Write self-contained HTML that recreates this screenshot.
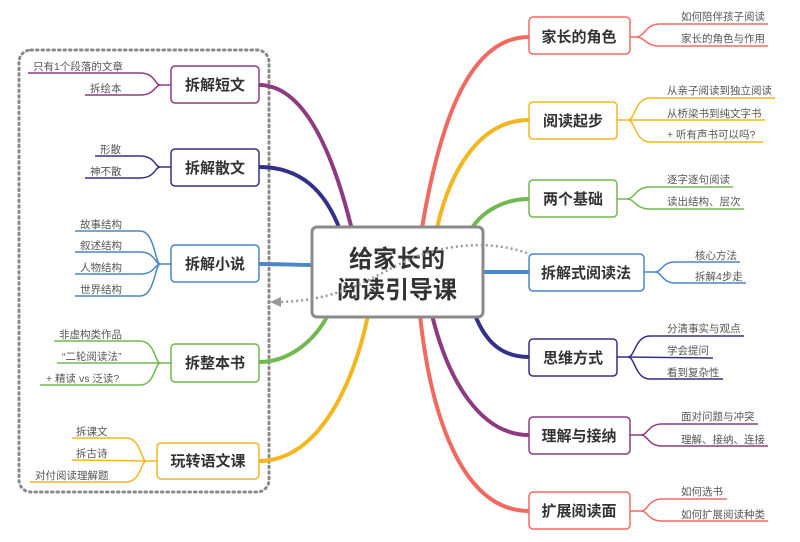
<!DOCTYPE html>
<html><head><meta charset="utf-8"><style>
html,body{margin:0;padding:0;background:#fff}
svg text{font-family:"Liberation Sans","Noto Sans CJK SC",sans-serif}
.l{font-size:10.5px;fill:#555}
.n{font-size:15px;font-weight:bold;fill:#333}
</style></head><body>
<svg width="800" height="537" viewBox="0 0 800 537" xmlns="http://www.w3.org/2000/svg">
<rect x="19" y="50" width="250" height="442" rx="12" fill="none" stroke="#8a8a8a" stroke-width="3" stroke-dasharray="1.5 4" stroke-linecap="round"/>
<g fill="none" stroke-linecap="round">
<path d="M259 85 C300 85 330 140 352 230" stroke="#8e3a80" stroke-width="4"/>
<path d="M259 167 C300 167 325 190 340 230" stroke="#33308a" stroke-width="4"/>
<path d="M259 264 C280 264 300 265 315 265" stroke="#4a86c8" stroke-width="4"/>
<path d="M259 362 C290 362 315 340 328 315" stroke="#72b850" stroke-width="4"/>
<path d="M259 461 C320 461 355 380 368 315" stroke="#f2b620" stroke-width="4"/>
<path d="M529 37 C470 37 440 120 422 228" stroke="#f06a62" stroke-width="4"/>
<path d="M529 120 C480 120 450 170 437 228" stroke="#f2b620" stroke-width="4"/>
<path d="M529 199 C500 199 480 215 472 228" stroke="#72b850" stroke-width="4"/>
<path d="M529 272 L483 272" stroke="#4a86c8" stroke-width="4"/>
<path d="M529 357 C500 357 485 340 475 315" stroke="#33308a" stroke-width="4"/>
<path d="M529 435 C480 435 448 380 432 315" stroke="#8e3a80" stroke-width="4"/>
<path d="M529 511 C460 511 430 410 420 315" stroke="#f06a62" stroke-width="4"/>
</g>
<g stroke-width="1.5" fill="#fff">
<rect x="312" y="227" width="171" height="90" rx="5" stroke="#8a8a8a" stroke-width="3"/>
<rect x="171" y="66" width="88" height="37" rx="4" stroke="#8e3a80"/>
<rect x="171" y="149" width="88" height="37" rx="4" stroke="#33308a"/>
<rect x="171" y="245" width="88" height="37" rx="4" stroke="#4a86c8"/>
<rect x="171" y="344" width="88" height="38" rx="4" stroke="#72b850"/>
<rect x="157" y="443" width="102" height="36" rx="4" stroke="#f2b620"/>
<rect x="529" y="17" width="101" height="37" rx="4" stroke="#f06a62"/>
<rect x="529" y="102" width="88" height="37" rx="4" stroke="#f2b620"/>
<rect x="529" y="180" width="88" height="37" rx="4" stroke="#72b850"/>
<rect x="529" y="254" width="115" height="37" rx="4" stroke="#4a86c8"/>
<rect x="529" y="339" width="88" height="37" rx="4" stroke="#33308a"/>
<rect x="529" y="417" width="101" height="37" rx="4" stroke="#8e3a80"/>
<rect x="529" y="492" width="101" height="37" rx="4" stroke="#f06a62"/>
</g>
<g fill="none" stroke-width="1.5">
<g stroke="#f06a62"><path d="M630 37 L636 37 C645 37 645 24 660 24 L768 24"/><path d="M636 37 C645 37 645 46 660 46 L768 46"/></g>
<g stroke="#f2b620"><path d="M617 120 L628 120 C635 120 635 98 650 98 L775 98"/><path d="M628 120 L765 120"/><path d="M628 120 C635 120 635 142 650 142 L763 142"/></g>
<g stroke="#72b850"><path d="M617 199 L627 199 C635 199 635 187 650 187 L733 187"/><path d="M627 199 C635 199 635 209 650 209 L744 209"/></g>
<g stroke="#4a86c8"><path d="M644 272 L655 272 C662 272 662 262 675 262 L740 262"/><path d="M655 272 C662 272 662 283 675 283 L746 283"/></g>
<g stroke="#33308a"><path d="M617 357 L628 357 C635 357 635 336 650 336 L744 336"/><path d="M628 357 L713 358"/><path d="M628 357 C635 357 635 379 650 379 L723 379"/></g>
<g stroke="#8e3a80"><path d="M630 435 L641 435 C648 435 648 424 662 424 L758 424"/><path d="M641 435 C648 435 648 446 662 446 L768 446"/></g>
<g stroke="#f06a62"><path d="M630 511 L641 511 C648 511 648 499 662 499 L727 499"/><path d="M641 511 C648 511 648 521 662 521 L768 521"/></g>
<g stroke="#8e3a80"><path d="M171 85 L160 85 C155 85 155 73 140 73 L28 73"/><path d="M160 85 C155 85 155 95 140 95 L85 95"/></g>
<g stroke="#33308a"><path d="M171 167 L160 167 C155 167 155 156 140 156 L95 156"/><path d="M160 167 C155 167 155 178 140 178 L85 178"/></g>
<g stroke="#4a86c8"><path d="M171 264 L160 264 C155 264 155 231 140 231 L75 231"/><path d="M160 264 C155 264 155 252 140 252 L75 252"/><path d="M160 264 C155 264 155 274 140 274 L75 274"/><path d="M160 264 C155 264 155 296 140 296 L75 296"/></g>
<g stroke="#72b850"><path d="M171 363 L160 363 C155 363 155 341 140 341 L54 341"/><path d="M160 363 L57 363"/><path d="M160 363 C155 363 155 385 140 385 L40 385"/></g>
<g stroke="#f2b620"><path d="M157 461 L146 461 C141 461 141 438 126 438 L72 438"/><path d="M146 461 L72 460"/><path d="M146 461 C141 461 141 482 126 482 L30 482"/></g>
</g>
<text x="397" y="267" text-anchor="middle" style="font-size:24px;font-weight:bold;fill:#333">给家长的</text>
<text x="397" y="298" text-anchor="middle" style="font-size:24px;font-weight:bold;fill:#333">阅读引导课</text>
<path d="M527 253 C490 240 450 245 420 255 C380 270 350 300 280 302" fill="none" stroke="#999" stroke-width="2.5" stroke-dasharray="2 3"/>
<path d="M270 302 L281 297 L281 307 Z" fill="#999"/>
<g class="n" text-anchor="middle">
<text x="215" y="90">拆解短文</text><text x="215" y="173">拆解散文</text><text x="215" y="269">拆解小说</text>
<text x="215" y="368">拆整本书</text><text x="208" y="466">玩转语文课</text>
<text x="579" y="42">家长的角色</text><text x="573" y="126">阅读起步</text><text x="573" y="204">两个基础</text>
<text x="586" y="278">拆解式阅读法</text><text x="573" y="363">思维方式</text><text x="579" y="441">理解与接纳</text><text x="579" y="516">扩展阅读面</text>
</g>
<g class="l">
<text x="681" y="20">如何陪伴孩子阅读</text><text x="681" y="42">家长的角色与作用</text>
<text x="667" y="94">从亲子阅读到独立阅读</text><text x="667" y="117">从桥梁书到纯文字书</text><text x="667" y="138">+ 听有声书可以吗?</text>
<text x="667" y="183">逐字逐句阅读</text><text x="667" y="205">读出结构、层次</text>
<text x="695" y="259">核心方法</text><text x="695" y="280">拆解4步走</text>
<text x="667" y="332">分清事实与观点</text><text x="667" y="354">学会提问</text><text x="667" y="376">看到复杂性</text>
<text x="681" y="420">面对问题与冲突</text><text x="681" y="443">理解、接纳、连接</text>
<text x="681" y="495">如何选书</text><text x="681" y="518">如何扩展阅读种类</text>
<text x="33" y="70">只有1个段落的文章</text><text x="90" y="92">拆绘本</text>
<text x="100" y="153">形散</text><text x="90" y="175">神不散</text>
<text x="80" y="228">故事结构</text><text x="80" y="249">叙述结构</text><text x="80" y="271">人物结构</text><text x="80" y="293">世界结构</text>
<text x="59" y="338">非虚构类作品</text><text x="62" y="360">“二轮阅读法”</text><text x="46" y="382">+ 精读 vs 泛读?</text>
<text x="76" y="435">拆课文</text><text x="76" y="457">拆古诗</text><text x="35" y="479">对付阅读理解题</text>
</g>
</svg>
</body></html>
